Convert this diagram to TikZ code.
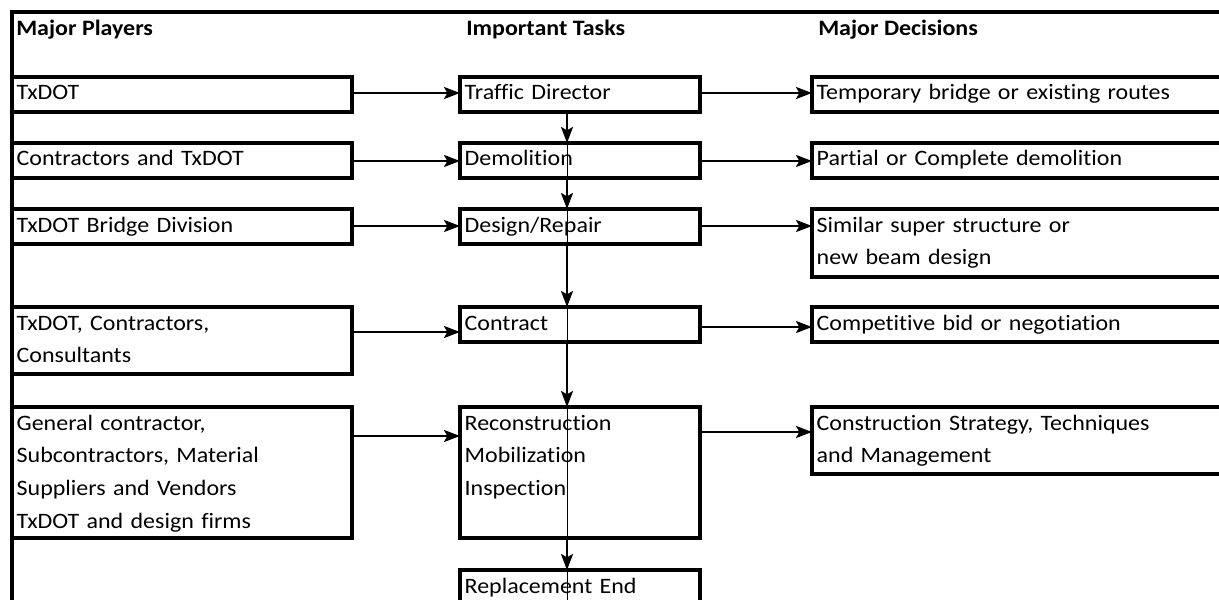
\documentclass[tikz,border=0pt]{standalone}
\usepackage{fontspec}
\setmainfont{Carlito}[FakeStretch=1.09, Ligatures=NoCommon]
\usetikzlibrary{arrows.meta}

\tikzset{
	box/.style={draw, line width=2.6pt, anchor=north west, outer sep=0pt,
		inner xsep=3.5pt, inner ysep=0pt, align=left,
		text height=17.25pt, text depth=9pt,
		font=\fontsize{16.5}{24.5}\selectfont},
	player/.style={box, text width=248pt},
	task/.style={box, text width=173pt},
	decision/.style={box, text width=353pt},
	head/.style={anchor=base west, inner sep=0pt, font=\fontsize{16.5}{18}\selectfont\bfseries},
	link/.style={line width=1.6pt, -{Stealth[length=12pt,width=9pt,inset=2.5pt]}},
}

\begin{document}
\begin{tikzpicture}[x=0.75pt,y=-0.75pt]
	\newcommand\RowLink[3]{\draw[link] (#1.north east) ++(0,#3) coordinate (l) -- (l -| #2.west);}
	\newcommand\StepDown[2]{\draw[link] (#1.south west) ++(107,0) coordinate (v) -- (v |- #2.north);}

	\clip (0,0) rectangle (1219,599);

	% frame and column heads
	\draw[line width=2.6pt] (12,640) -- (12,12) -- (1260,12);
	\node[head] (hp) at (16,36) {Major Players};
	\node[head] (ht) at (466,36) {Important Tasks};
	\node[head] (hd) at (818,36) {Major Decisions};

	% players
	\node[player] (p1) at (12,77) {TxDOT};
	\node[player] (p2) at (12,143) {Contractors and TxDOT};
	\node[player] (p3) at (12,209) {TxDOT Bridge Division};
	\node[player, text depth=33pt] (p4) at (12,307) {TxDOT, Contractors,\\Consultants};
	\node[player, text depth=81pt] (p5) at (12,407) {General contractor,\\Subcontractors, Material\\Suppliers and Vendors\\TxDOT and design firms};

	% tasks
	\node[task] (t1) at (460,77) {Traffic Director};
	\node[task] (t2) at (460,143) {Demolition};
	\node[task] (t3) at (460,209) {Design/Repair};
	\node[task] (t4) at (460,307) {Contract};
	\node[task, text depth=81pt] (t5) at (460,407) {Reconstruction\\Mobilization\\Inspection};
	\node[task] (t6) at (460,570) {Replacement End};

	% decisions
	\node[decision] (d1) at (812,77) {Temporary bridge or existing routes};
	\node[decision] (d2) at (812,143) {Partial or Complete demolition};
	\node[decision, text depth=33.75pt] (d3) at (812,209) {Similar super structure or\\new beam design};
	\node[decision] (d4) at (812,307) {Competitive bid or negotiation};
	\node[decision, text depth=33pt] (d5) at (812,407) {Construction Strategy, Techniques\\and Management};

	% players -> tasks -> decisions
	\RowLink{p1}{t1}{16}
	\RowLink{p2}{t2}{18}
	\RowLink{p3}{t3}{17}
	\RowLink{p4}{t4}{25}
	\RowLink{p5}{t5}{29}
	\RowLink{t1}{d1}{16}
	\RowLink{t2}{d2}{18}
	\RowLink{t3}{d3}{17}
	\RowLink{t4}{d4}{20}
	\RowLink{t5}{d5}{25}

	% task sequence
	\StepDown{t1}{t2}
	\StepDown{t2}{t3}
	\StepDown{t3}{t4}
	\StepDown{t4}{t5}
	\StepDown{t5}{t6}
	\draw[line width=0.6pt] (t2.north west) ++(107,0) coordinate (thru) -- (thru |- t6.south);
\end{tikzpicture}
\end{document}
